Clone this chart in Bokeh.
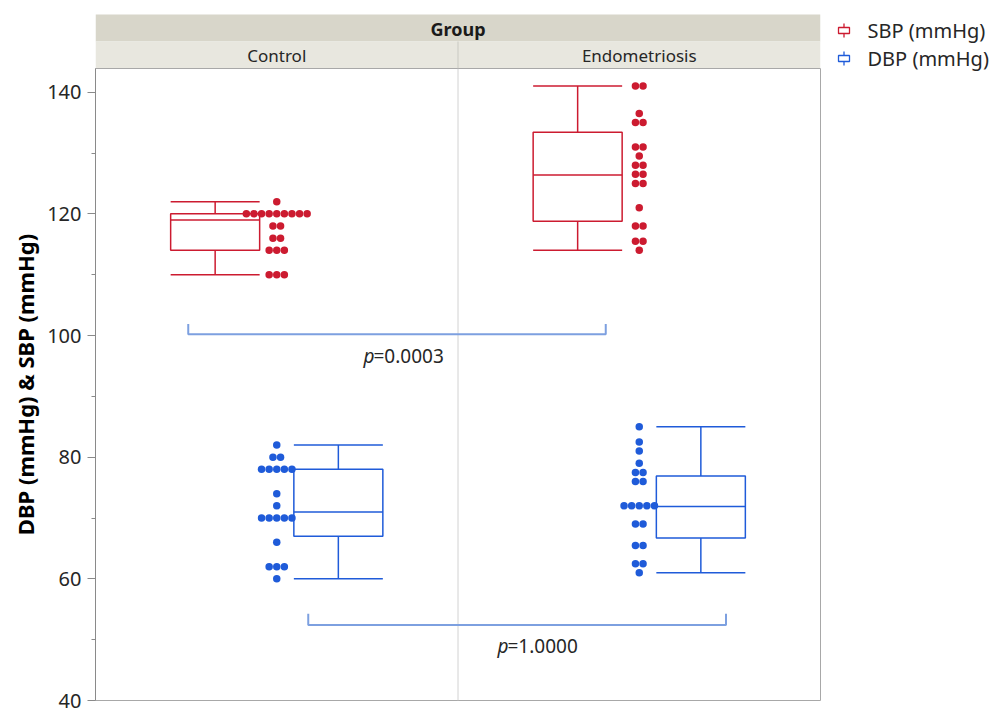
from collections import Counter
from bokeh.plotting import figure
from bokeh.layouts import column, row
from bokeh.models import Range1d, FixedTicker
from bokeh.core.properties import value
from bokeh.embed import file_html
from bokeh.resources import INLINE

# ---------------- data ----------------
groups = ["Control", "Endometriosis"]
series = ["SBP (mmHg)", "DBP (mmHg)"]

sbp_control = [122, 120, 120, 120, 120, 120, 120, 120, 120, 120,
               118, 118, 116, 116, 114, 114, 114, 110, 110, 110]
sbp_endo = [141, 141, 136.5, 135, 135, 131, 131, 129.5, 128, 128,
            126.5, 126.5, 125, 125, 121, 118, 118, 115.5, 115.5, 114]
dbp_control = [82, 80, 80, 78, 78, 78, 78, 78, 74, 72,
               70, 70, 70, 70, 70, 66, 62, 62, 62, 60]
dbp_endo = [85, 82.5, 81, 79, 77.5, 77.5, 76, 76, 72, 72,
            72, 72, 72, 69, 69, 65.5, 65.5, 62.5, 62.5, 61]

sbp_lower = [110, 114]
sbp_q1 = [114, 118.8]
sbp_median = [119, 126.4]
sbp_q3 = [120, 133.4]
sbp_upper = [122, 141]

dbp_lower = [60, 61]
dbp_q1 = [67, 66.7]
dbp_median = [71, 71.9]
dbp_q3 = [78, 76.9]
dbp_upper = [82, 85]

p_values = ["0.0003", "1.0000"]
y_ticks = [40, 60, 80, 100, 120, 140]
y_minor = [50, 70, 90, 110, 130]

# ---------------- style / layout ----------------
RED = "#cc1b30"
BLUE = "#1f5bd9"
BRACKET = "#7da0e0"
AXIS_GRAY = "#8a8a8a"
FONT = "Noto Sans"
PXU = 362.5  # pixels per group unit
LEFT = 95    # page x of plot frame left edge
LEFT_W = LEFT + 725 + 2


def px(d):
    return d / PXU


def pgx(x_page):
    return (x_page - LEFT) / PXU


BOX_OFF = px(61.6)
BOX_W = px(89)
DOT_PITCH = px(7.6)
DOT_SIZE = 7.5
Y_PER_UNIT = 6.083
Y_TOP = 40 + 632 / Y_PER_UNIT

main = figure(width=LEFT_W, height=641, x_range=Range1d(0, 2),
              y_range=Range1d(40, Y_TOP),
              output_backend="svg", toolbar_location=None,
              min_border_left=LEFT, min_border_right=2,
              min_border_top=0, min_border_bottom=9)
main.xaxis.visible = False
main.xgrid.visible = False
main.ygrid.visible = False
main.outline_line_color = "#a8a8a8"
main.outline_line_width = 1

yax = main.yaxis[0]
yax.ticker = FixedTicker(ticks=y_ticks, minor_ticks=y_minor)
yax.axis_line_color = AXIS_GRAY
yax.major_tick_line_color = AXIS_GRAY
yax.minor_tick_line_color = AXIS_GRAY
yax.major_tick_out = 8
yax.major_tick_in = 0
yax.minor_tick_out = 4
yax.minor_tick_in = 0
yax.major_label_text_font = FONT
yax.major_label_text_font_size = "20px"
yax.major_label_text_color = "#262626"
yax.major_label_standoff = 6
yax.axis_label = "DBP (mmHg) & SBP (mmHg)"
yax.axis_label_text_font = FONT
yax.axis_label_text_font_style = "bold"
yax.axis_label_text_font_size = "22px"
yax.axis_label_text_color = "#000000"
yax.axis_label_standoff = 4

# divider between groups
main.segment(x0=[1], y0=[40], x1=[1], y1=[Y_TOP], line_color="#d2d2d2", line_width=1)


def draw_box(cx, lo, q1, med, q3, hi, color):
    main.quad(left=[cx - BOX_W / 2], right=[cx + BOX_W / 2], bottom=[q1], top=[q3],
              fill_color=None, line_color=color, line_width=1.5)
    main.segment(x0=[cx - BOX_W / 2, cx, cx, cx - BOX_W / 2, cx - BOX_W / 2],
                 y0=[med, q3, q1, hi, lo],
                 x1=[cx + BOX_W / 2, cx, cx, cx + BOX_W / 2, cx + BOX_W / 2],
                 y1=[med, hi, lo, hi, lo],
                 line_color=color, line_width=1.5)


def draw_dots(center, vals, color):
    xs, ys = [], []
    counts = Counter(vals)
    for v, n in counts.items():
        for k in range(n):
            xs.append(center + (k - (n - 1) / 2) * DOT_PITCH)
            ys.append(v)
    main.scatter(x=xs, y=ys, size=DOT_SIZE, fill_color=color, line_color=None)


sbp_data = [sbp_control, sbp_endo]
dbp_data = [dbp_control, dbp_endo]
for i in range(len(groups)):
    gc = i + 0.5
    draw_box(gc - BOX_OFF, sbp_lower[i], sbp_q1[i], sbp_median[i], sbp_q3[i], sbp_upper[i], RED)
    draw_box(gc + BOX_OFF, dbp_lower[i], dbp_q1[i], dbp_median[i], dbp_q3[i], dbp_upper[i], BLUE)
    draw_dots(gc, sbp_data[i], RED)
    draw_dots(gc, dbp_data[i], BLUE)

# comparison brackets
brackets = [
    (0.5 + px(-88.5), 1.5 + px(-33.5), 100.2, 101.9),
    (0.5 + px(31.5), 1.5 + px(86.75), 52.4, 54.25),
]
for (xa, xb, yb, yt) in brackets:
    main.line(x=[xa, xa, xb, xb], y=[yt, yb, yb, yt], line_color=BRACKET, line_width=2)

p_label_pos = [(pgx(363), pgx(373), 96.7), (pgx(497), pgx(507), 48.9)]
for (xp, xv, yy), pv in zip(p_label_pos, p_values):
    main.text(x=[xp], y=[yy], text=["p"], text_font=value(FONT), text_font_style="italic",
              text_font_size="19px", text_align="left", text_baseline="middle",
              text_color="#262626")
    main.text(x=[xv], y=[yy], text=["=" + pv], text_font=value(FONT),
              text_font_size="19px", text_align="left", text_baseline="middle",
              text_color="#262626")

# ---------------- header (group strip) ----------------
head = figure(width=LEFT_W, height=68, x_range=Range1d(0, 2), y_range=Range1d(68, 0),
              output_backend="svg", toolbar_location=None,
              min_border_left=LEFT, min_border_right=2, min_border_top=0, min_border_bottom=0)
head.xaxis.visible = False
head.yaxis.visible = False
head.xgrid.visible = False
head.ygrid.visible = False
head.outline_line_color = None

head.quad(left=[0], right=[2], top=[14], bottom=[41], fill_color="#d8d6ca", line_color=None)
head.quad(left=[0, 1], right=[1, 2], top=[41, 41], bottom=[68, 68],
          fill_color="#e8e7df", line_color=None)
head.segment(x0=[1], y0=[41], x1=[1], y1=[68], line_color="#c9c9c2", line_width=1)
head.text(x=[1], y=[28], text=["Group"], text_font=value(FONT), text_font_style="bold",
          text_font_size="18px", text_align="center", text_baseline="middle", text_color="#1a1a1a")
head.text(x=[i + 0.5 for i in range(len(groups))], y=[55, 55], text=groups,
          text_font=value(FONT), text_font_size="17px", text_align="center",
          text_baseline="middle", text_color="#262626")

# ---------------- legend (right strip) ----------------
LEG_W = 168
leg = figure(width=LEG_W, height=709, x_range=Range1d(LEFT_W, LEFT_W + LEG_W),
             y_range=Range1d(709, 0), output_backend="svg", toolbar_location=None,
             min_border_left=0, min_border_right=0, min_border_top=0, min_border_bottom=0)
leg.xaxis.visible = False
leg.yaxis.visible = False
leg.xgrid.visible = False
leg.ygrid.visible = False
leg.outline_line_color = None

legend_colors = [RED, BLUE]
legend_y = [30, 58]
ICON_X = 843.5
for s, c, ly in zip(series, legend_colors, legend_y):
    leg.quad(left=[ICON_X - 5.5], right=[ICON_X + 5.5], top=[ly - 3], bottom=[ly + 3],
             fill_color=None, line_color=c, line_width=1.3)
    leg.segment(x0=[ICON_X, ICON_X], y0=[ly - 7, ly + 3], x1=[ICON_X, ICON_X], y1=[ly - 3, ly + 7],
                line_color=c, line_width=1.3)
    leg.text(x=[867], y=[ly], text=[s], text_font=value(FONT), text_font_size="20px",
             text_align="left", text_baseline="middle", text_color="#262626")

layout = row(column(head, main, spacing=0), leg, spacing=0)
open("out.html", "w").write(file_html(layout, INLINE))
